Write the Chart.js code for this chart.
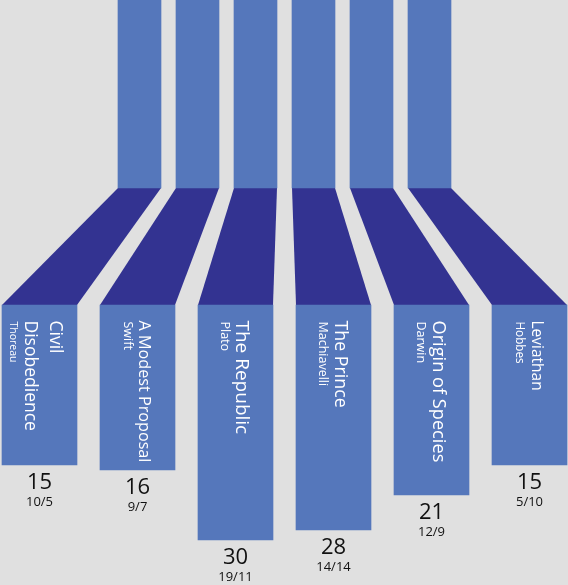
<!DOCTYPE html>
<html>
<head>
<meta charset="utf-8">
<title>Books</title>
<script src="https://cdn.jsdelivr.net/npm/chart.js@4.4.1/dist/chart.umd.min.js"></script>
<style>
  html, body { margin: 0; padding: 0; background: #e0e0e0; }
  canvas { display: block; }
</style>
</head>
<body>
<canvas id="bookchart" width="568" height="585"></canvas>
<script>
const titles = [['Civil', 'Disobedience'], ['A Modest Proposal'], ['The Republic'], ['The Prince'], ['Origin of Species'], ['Leviathan']];
const authors = ['Thoreau', 'Swift', 'Plato', 'Machiavelli', 'Darwin', 'Hobbes'];
const totals = [15, 16, 30, 28, 21, 15];
const firstCounts = [10, 9, 19, 14, 12, 5];
const secondCounts = [5, 7, 11, 14, 9, 10];

const lightBlue = '#5577bb';
const darkBlue = '#333391';
const font = '"Open Sans", "Noto Sans", sans-serif';
// the titles are squeezed to fit their bars, so sizes differ per bar
const titleSize = [17.5, 16.2, 19, 17.8, 18.2, 15.5];
const authorSize = [10.5, 12.5, 12.5, 12.5, 12.5, 11.7];

// layout: y axis in value units, bottom bars hang from BASE
const TOP_START = -78, TOP_END = -40.4, BASE = -17;
// x axes: pixel of first bar and step between bars
const TOP_FIRST = 139.5, TOP_STEP = 58;
const BOT_FIRST = 39.5, BOT_STEP = 98;
const W = 568;

const topData = totals.map((v, i) => ({x: i, y: [TOP_START, TOP_END]}));
const bottomData = totals.map((v, i) => ({x: i, y: [BASE, v]}));

// dark slanted pieces between the two rows of bars
const connectors = {
    id: 'connectors',
    beforeDatasetsDraw(chart) {
        const ctx = chart.ctx;
        const top = chart.getDatasetMeta(0).data;
        const bottom = chart.getDatasetMeta(1).data;
        ctx.save();
        ctx.fillStyle = darkBlue;
        top.forEach((t, i) => {
            const b = bottom[i];
            const y1 = Math.max(t.y, t.base);
            const y2 = Math.min(b.y, b.base);
            ctx.beginPath();
            ctx.moveTo(t.x - t.width / 2, y1);
            ctx.lineTo(t.x + t.width / 2, y1);
            ctx.lineTo(b.x + b.width / 2, y2);
            ctx.lineTo(b.x - b.width / 2, y2);
            ctx.closePath();
            ctx.fill();
        });
        ctx.restore();
    }
};

const labels = {
    id: 'labels',
    afterDatasetsDraw(chart) {
        const ctx = chart.ctx;
        const bars = chart.getDatasetMeta(1).data;
        bars.forEach((bar, i) => {
            const top = Math.min(bar.y, bar.base);
            const bottom = Math.max(bar.y, bar.base);
            const n = titles[i].length;
            const cap = titleSize[i] * 0.72;
            const lineGap = 25, authorGap = 15.5;
            const blockH = cap + (n - 1) * lineGap + authorGap;

            // text reads downwards, block centred across the bar
            ctx.save();
            ctx.translate(bar.x + blockH / 2 - (n - 1) * 3, top + 15.5);
            ctx.rotate(Math.PI / 2);
            ctx.fillStyle = '#fff';
            ctx.textAlign = 'left';
            ctx.textBaseline = 'alphabetic';
            ctx.font = titleSize[i] + 'px ' + font;
            titles[i].forEach((t, j) => ctx.fillText(t, 0, cap + j * lineGap));
            ctx.font = authorSize[i] + 'px ' + font;
            ctx.fillText(authors[i], 1, blockH);
            ctx.restore();

            ctx.save();
            ctx.fillStyle = '#111';
            ctx.textAlign = 'center';
            ctx.textBaseline = 'alphabetic';
            ctx.font = '22px ' + font;
            ctx.fillText(String(totals[i]), bar.x, bottom + 24);
            ctx.font = '13px ' + font;
            ctx.fillText(firstCounts[i] + '/' + secondCounts[i], bar.x, bottom + 41);
            ctx.restore();
        });
    }
};

const chart = document.getElementById('bookchart');
const bookChart = new Chart(chart, {
    type: 'bar',
    data: {
        datasets: [
            {
                label: 'top',
                data: topData,
                xAxisID: 'xTop',
                backgroundColor: lightBlue,
                borderWidth: 0,
                grouped: false,
                barThickness: 43
            },
            {
                label: 'books',
                data: bottomData,
                xAxisID: 'xBottom',
                backgroundColor: lightBlue,
                borderWidth: 0,
                grouped: false,
                barThickness: 75
            }
        ]
    },
    options: {
        responsive: false,
        animation: false,
        layout: {padding: 0},
        plugins: {
            legend: {display: false},
            tooltip: {enabled: false}
        },
        scales: {
            xTop: {
                type: 'linear', display: false, offset: false,
                min: -TOP_FIRST / TOP_STEP, max: (W - TOP_FIRST) / TOP_STEP
            },
            xBottom: {
                type: 'linear', display: false, offset: false,
                min: -BOT_FIRST / BOT_STEP, max: (W - BOT_FIRST) / BOT_STEP
            },
            y: {display: false, reverse: true, min: -78, max: 39}
        }
    },
    plugins: [connectors, labels]
});
</script>
</body>
</html>
